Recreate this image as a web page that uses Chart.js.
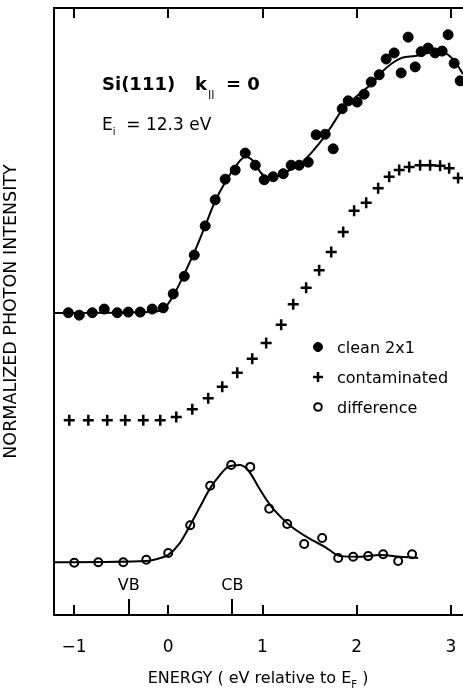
<!DOCTYPE html>
<html>
<head>
<meta charset="utf-8">
<script src="https://cdn.jsdelivr.net/npm/chart.js@4.4.1/dist/chart.umd.min.js"></script>
<style>
html,body{margin:0;padding:0;background:#fff;overflow:hidden}
#c{display:block}
</style>
</head>
<body>
<canvas id="c" width="463" height="689"></canvas>
<script>
// ── Si(111) k|| = 0 inverse photoemission spectra ──
// energy in eV relative to E_F, intensity in arbitrary units (0..100 = frame height)

// clean 2x1 surface
const cleanE=[-1.06,-0.944,-0.806,-0.679,-0.541,-0.424,-0.297,-0.170,-0.053,0.053,0.170,0.276,0.392,0.498,0.604,0.710,0.817,0.923,1.018,1.113,1.220,1.304,1.389,1.485,1.569,1.665,1.750,1.845,1.909,2.004,2.078,2.153,2.238,2.312,2.397,2.471,2.545,2.620,2.683,2.757,2.831,2.906,2.969,3.033,3.097];
const cleanI=[49.8,49.4,49.8,50.4,49.8,49.9,49.9,50.4,50.6,52.9,55.8,59.3,64.1,68.4,71.8,73.3,76.1,74.1,71.7,72.2,72.7,74.1,74.1,74.6,79.1,79.2,76.8,83.4,84.7,84.5,85.8,87.8,89.0,91.6,92.6,89.3,95.2,90.3,92.8,93.4,92.6,92.9,95.6,90.9,88.0];
// smoothed curve through the clean data
const cleanFitE=[-1.209,-0.191,-0.032,0.074,0.180,0.286,0.392,0.498,0.604,0.710,0.817,0.901,0.980,1.060,1.150,1.260,1.400,1.527,1.633,1.739,1.845,1.951,2.057,2.163,2.269,2.375,2.481,2.619,2.757,2.884,2.969,3.054,3.128];
const cleanFitI=[49.75,49.9,50.7,53.2,56.5,60.1,64.1,68.2,71.3,73.8,75.5,74.8,72.9,72.1,72.2,73.1,74.3,76.3,78.3,80.7,83.2,84.8,86.2,87.6,89.5,90.9,91.8,92.1,92.6,92.8,92.3,90.9,89.1];

// contaminated surface
const contE=[-1.050,-0.848,-0.647,-0.456,-0.265,-0.085,0.085,0.255,0.424,0.573,0.732,0.891,1.039,1.198,1.326,1.463,1.601,1.729,1.856,1.972,2.100,2.227,2.344,2.450,2.556,2.672,2.778,2.884,2.980,3.075];
const contI=[32.1,32.1,32.1,32.1,32.1,32.1,32.6,33.9,35.7,37.6,39.9,42.2,44.8,47.8,51.2,53.9,56.8,59.8,63.1,66.6,67.9,70.3,72.2,73.3,73.8,74.1,74.1,74.0,73.6,72.0];

// difference clean - contaminated
const diffE=[-0.997,-0.742,-0.477,-0.233,0.0,0.233,0.445,0.668,0.870,1.071,1.262,1.442,1.633,1.803,1.962,2.121,2.280,2.439,2.587];
const diffI=[8.6,8.7,8.7,9.1,10.2,14.8,21.3,24.7,24.4,17.5,15.0,11.7,12.7,9.4,9.6,9.7,10.0,8.9,10.0];
const diffFitE=[-1.209,-0.233,-0.100,0.0,0.120,0.233,0.340,0.445,0.550,0.636,0.764,0.860,0.960,1.082,1.190,1.294,1.485,1.665,1.824,2.036,2.248,2.460,2.651];
const diffFitI=[8.7,8.9,9.3,9.9,11.8,14.8,17.9,20.9,23.1,24.4,24.7,23.6,21.0,18.1,16.2,14.7,12.7,11.2,9.7,9.6,9.9,9.6,9.4];

const tickVals=[-1,0,1,2,3];
const bandE=[-0.42,0.68];
const bandLabels=['VB','CB'];
const legendLabels=['clean 2x1','contaminated','difference'];
const xMin=-1.212,xMax=3.127;

const FONT='"DejaVu Sans", "Liberation Sans", sans-serif';
const pts=(xs,ys)=>xs.map((x,i)=>({x,y:ys[i]}));

const markers=[
  {pointStyle:'circle',radius:4.5,borderWidth:1,fill:'#000'},
  {pointStyle:'cross',radius:5,borderWidth:2.5,fill:'#000'},
  {pointStyle:'circle',radius:3.8,borderWidth:2,fill:'rgba(0,0,0,0)'}
];

// text runs with optional subscript offset
function runs(ctx,parts,x,y){
  let cx=x;
  parts.forEach(p=>{ctx.font=p.font;ctx.fillText(p.t,cx,y+(p.dy||0));cx+=ctx.measureText(p.t).width});
  return cx;
}
function runsWidth(ctx,parts){
  return parts.reduce((w,p)=>{ctx.font=p.font;return w+ctx.measureText(p.t).width},0);
}

const decor={
  id:'decor',
  afterDraw(chart){
    const {ctx,chartArea:a,scales:{x}}=chart;
    ctx.save();
    ctx.strokeStyle='#000';ctx.fillStyle='#000';ctx.lineWidth=2;
    // top frame line
    ctx.beginPath();ctx.moveTo(a.left-1,a.top);ctx.lineTo(a.right,a.top);ctx.stroke();
    // inward tick marks, bottom and top
    ctx.beginPath();
    tickVals.forEach(v=>{
      const p=Math.round(x.getPixelForValue(v));
      ctx.moveTo(p,a.bottom);ctx.lineTo(p,a.bottom-10);
      ctx.moveTo(p,a.top);ctx.lineTo(p,a.top+10);
    });
    bandE.forEach(v=>{const p=Math.round(x.getPixelForValue(v));ctx.moveTo(p,a.bottom);ctx.lineTo(p,a.bottom-16)});
    ctx.stroke();

    ctx.textBaseline='alphabetic';
    // band edge labels
    ctx.font='16px '+FONT;ctx.textAlign='center';
    bandE.forEach((v,i)=>ctx.fillText(bandLabels[i],x.getPixelForValue(v),590));
    ctx.textAlign='left';

    // heading
    ctx.font='bold 18px '+FONT;
    ctx.fillText('Si(111)',102,90);
    ctx.fillText('k',195,90);
    ctx.font='bold 9px '+FONT;
    ctx.fillText('||',208,97);
    ctx.font='bold 18px '+FONT;
    ctx.fillText('= 0',226,90);
    runs(ctx,[{t:'E',font:'17px '+FONT},{t:'i',font:'10px '+FONT,dy:5},{t:'  = 12.3 eV',font:'17px '+FONT}],102,130);

    // x axis title
    const xt=[{t:'ENERGY ( eV relative to E',font:'16px '+FONT},{t:'F',font:'10px '+FONT,dy:5},{t:' )',font:'16px '+FONT}];
    runs(ctx,xt,258-runsWidth(ctx,xt)/2,683);

    // legend
    const ly=[347,377,407];
    markers.forEach((m,i)=>{
      ctx.fillStyle=m.fill;ctx.strokeStyle='#000';ctx.lineWidth=m.borderWidth;
      Chart.helpers.drawPoint(ctx,{pointStyle:m.pointStyle,radius:m.radius,borderWidth:m.borderWidth,rotation:0},318,ly[i]);
      ctx.fillStyle='#000';ctx.font='16px '+FONT;
      ctx.fillText(legendLabels[i],337,ly[i]+6);
    });
    ctx.restore();
  }
};

new Chart(document.getElementById('c'),{
  type:'scatter',
  data:{datasets:[
    {label:legendLabels[0],data:pts(cleanE,cleanI),pointStyle:'circle',pointRadius:5,borderWidth:1,
     backgroundColor:'#000',borderColor:'#000',clip:false,order:0},
    {label:legendLabels[1],data:pts(contE,contI),pointStyle:'cross',pointRadius:5.5,borderWidth:2.5,
     backgroundColor:'#000',borderColor:'#000',clip:false,order:1},
    {label:legendLabels[2],data:pts(diffE,diffI),pointStyle:'circle',pointRadius:4,borderWidth:2,
     backgroundColor:'rgba(0,0,0,0)',borderColor:'#000',clip:false,order:2},
    {label:'clean fit',data:pts(cleanFitE,cleanFitI),showLine:true,pointRadius:0,borderWidth:2,
     borderColor:'#000',cubicInterpolationMode:'monotone',clip:false,order:3},
    {label:'difference fit',data:pts(diffFitE,diffFitI),showLine:true,pointRadius:0,borderWidth:2,
     borderColor:'#000',cubicInterpolationMode:'monotone',clip:false,order:4}
  ]},
  options:{
    responsive:false,animation:false,devicePixelRatio:1,events:[],
    layout:{autoPadding:false,padding:{top:8,right:0,left:0,bottom:0}},
    plugins:{legend:{display:false},tooltip:{enabled:false}},
    scales:{
      x:{type:'linear',min:xMin,max:xMax,position:'bottom',
        afterFit:s=>{s.height=74;s.paddingLeft=0;s.paddingRight=0},
        afterBuildTicks:s=>{s.ticks=tickVals.map(v=>({value:v}))},
        grid:{display:false},
        border:{display:true,color:'#000',width:2},
        ticks:{padding:14,color:'#000',maxRotation:0,autoSkip:false,font:{family:FONT,size:17},
          callback:v=>v<0?'\u2212'+Math.abs(v):String(v)}},
      y:{type:'linear',min:0,max:100,
        afterFit:s=>{s.width=54;s.paddingTop=0;s.paddingBottom=0},
        grid:{display:false},
        border:{display:true,color:'#000',width:2},
        ticks:{display:false},
        title:{display:true,text:'NORMALIZED PHOTON INTENSITY',color:'#000',
          font:{family:FONT,size:17.5},padding:{top:1,bottom:0}}}
    }
  },
  plugins:[decor]
});
</script>
</body>
</html>
